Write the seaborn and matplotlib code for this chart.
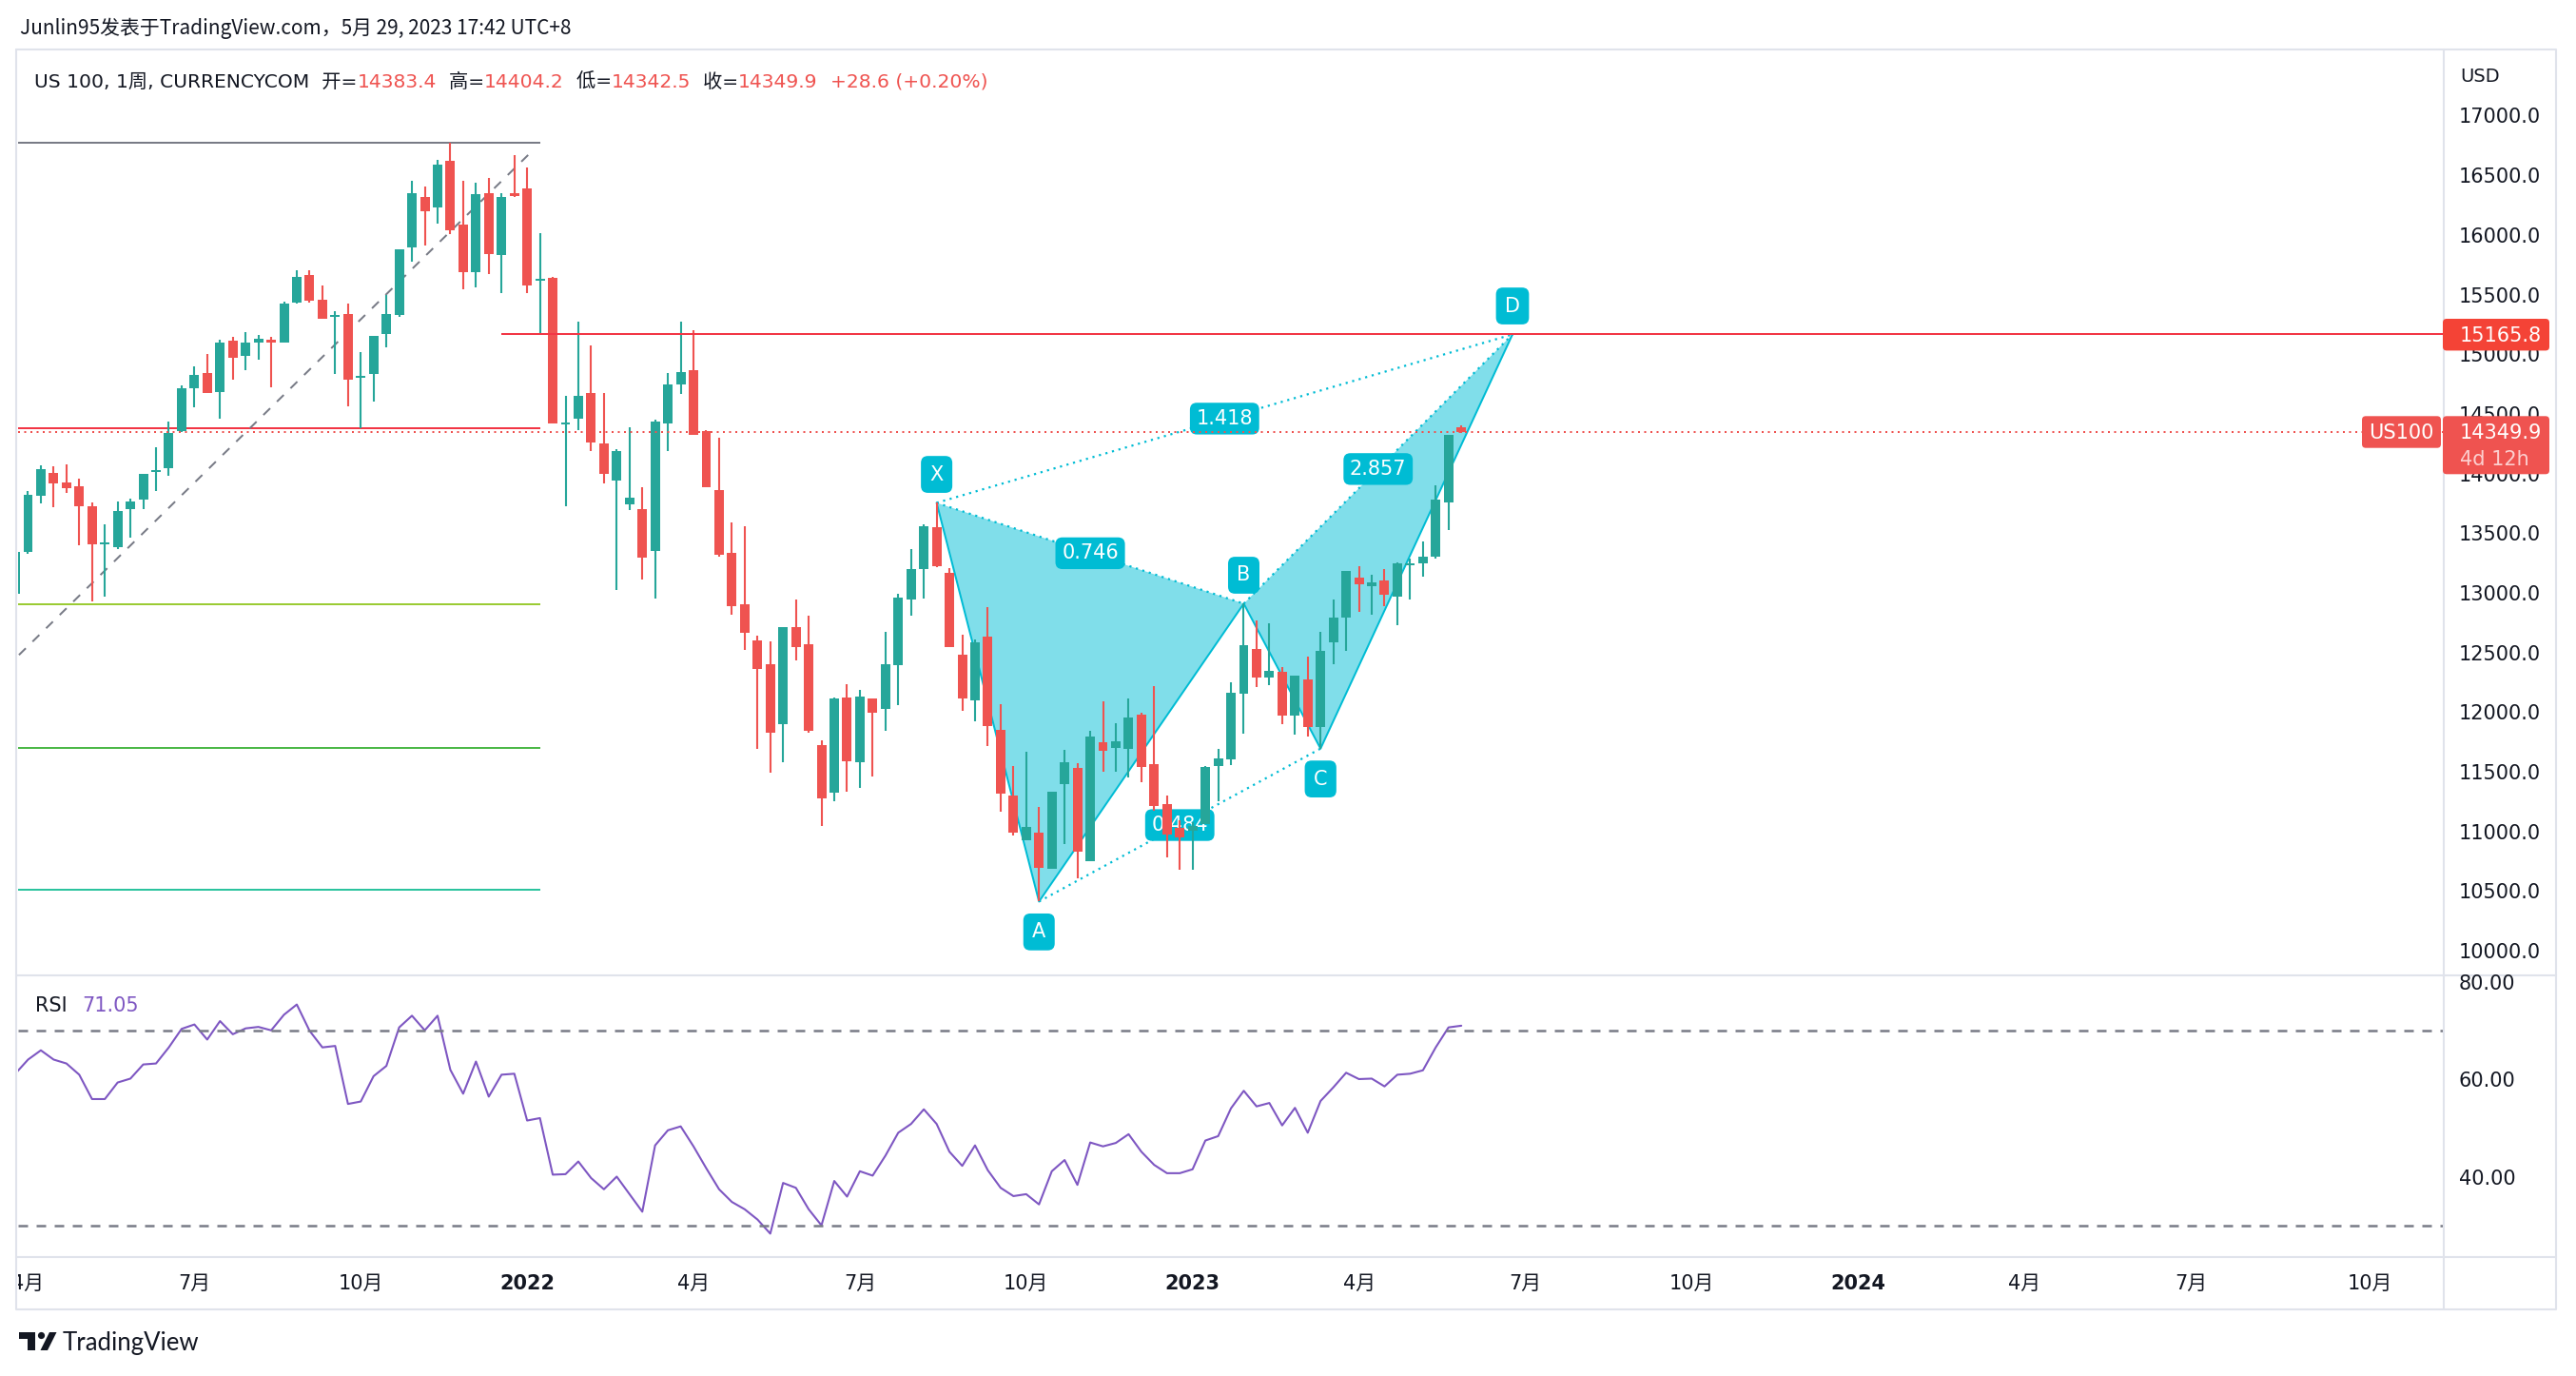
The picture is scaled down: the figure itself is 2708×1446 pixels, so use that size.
import numpy as np
import pandas as pd
import matplotlib
matplotlib.use("Agg")
import matplotlib.pyplot as plt
import seaborn as sns
from matplotlib.patches import Polygon, FancyBboxPatch, Circle
from matplotlib.transforms import Bbox, TransformedBbox

# weekly US 100 bars, week of 2021-03-29 up to week of 2023-05-29
opens = [12993, 13341, 13813, 14006, 13928, 13896, 13726, 13405, 13383, 13699,
         13781, 14015, 14042, 14358, 14711, 14844, 14684, 15110, 14986, 15101,
         15124, 15096, 15431, 15660, 15458, 15311, 15334, 14803, 14835, 15169,
         15325, 15893, 16320, 16232, 16617, 16090, 15687, 16352, 15829, 16347,
         16393, 15614, 15641, 14413, 14456, 14677, 14253, 13940, 13744, 13705,
         13348, 14417, 14748, 14863, 14353, 13861, 13334, 12903, 12604, 12401,
         11898, 12714, 12571, 11723, 11321, 12123, 11577, 12115, 12030, 12390,
         12942, 13202, 13551, 13170, 12482, 12098, 12636, 11852, 11303, 10929,
         10993, 10690, 11399, 11535, 10748, 11746, 11703, 11695, 11977, 11566,
         11227, 11033, 11005, 11062, 11546, 11603, 12153, 12527, 12287, 12339,
         11968, 12273, 11874, 12587, 12792, 13128, 13054, 13105, 12971, 13231,
         13248, 13299, 13754, 14383.4]
highs = [13360, 13854, 14070, 14061, 14079, 13960, 13758, 13575, 13767, 13786,
         13996, 14221, 14436, 14739, 14894, 15004, 15124, 15147, 15183, 15160,
         15147, 15440, 15701, 15701, 15573, 15357, 15421, 15014, 15151, 15499,
         15875, 16457, 16402, 16631, 16773, 16457, 16434, 16475, 16352, 16672,
         16567, 16017, 15651, 14652, 15276, 15076, 14677, 14200, 14385, 13883,
         14449, 14845, 15276, 15197, 14367, 14303, 13591, 13555, 12639, 12593,
         12714, 12942, 12810, 11766, 12123, 12237, 12187, 12115, 12675, 12988,
         13370, 13573, 13754, 13209, 12650, 12607, 12881, 12069, 11545, 11666,
         11203, 11332, 11684, 11570, 11846, 12088, 11908, 12116, 11997, 12216,
         11298, 11090, 11076, 11546, 11689, 12250, 12909, 12772, 12743, 12376,
         12307, 12464, 12672, 12943, 13185, 13225, 13151, 13199, 13256, 13285,
         13433, 13898, 14317, 14404.2]
lows = [12975, 13327, 13749, 13717, 13841, 13396, 12924, 12965, 13364, 13465,
        13699, 13854, 13978, 14349, 14555, 14675, 14459, 14785, 14867, 14954,
        14720, 15096, 15422, 15435, 15298, 14835, 14560, 14381, 14601, 15055,
        15311, 15779, 15907, 16095, 16003, 15545, 15559, 15673, 15513, 16320,
        15513, 15170, 14418, 13722, 14367, 14189, 13915, 13024, 13690, 13109,
        12949, 14186, 14670, 14321, 13886, 13305, 12817, 12522, 11695, 11488,
        11577, 12436, 11827, 11043, 11250, 11332, 11367, 11463, 11845, 12058,
        12810, 12953, 13213, 12543, 12009, 11923, 11713, 11161, 10965, 10929,
        10412, 10690, 10893, 10608, 10748, 11498, 11498, 11452, 11410, 11176,
        10785, 10677, 10677, 11062, 11253, 11555, 11817, 12210, 12225, 11897,
        11811, 11794, 11694, 12401, 12515, 12843, 12820, 12891, 12729, 12943,
        13137, 13290, 13523, 14342.5]
closes = [13341, 13822, 14038, 13914, 13877, 13722, 13405, 13410, 13685, 13767,
          13996, 14029, 14340, 14716, 14830, 14675, 15101, 14968, 15101, 15133,
          15101, 15426, 15651, 15449, 15298, 15325, 14785, 14817, 15151, 15334,
          15875, 16352, 16200, 16585, 16040, 15687, 16338, 15838, 16315, 16329,
          15577, 15628, 14418, 14427, 14652, 14257, 13993, 14189, 13797, 13291,
          14439, 14748, 14848, 14321, 13886, 13316, 12889, 12664, 12361, 11830,
          12714, 12543, 11845, 11278, 12112, 11588, 12133, 11994, 12401, 12960,
          13202, 13558, 13220, 12543, 12112, 12586, 11880, 11314, 10993, 11036,
          10697, 11332, 11581, 10829, 11797, 11675, 11754, 11954, 11538, 11213,
          10976, 10948, 11048, 11538, 11609, 12165, 12564, 12287, 12344, 11968,
          12307, 11874, 12512, 12792, 13185, 13071, 13091, 12980, 13248, 13242,
          13299, 13784, 14321.3, 14349.9]
rsi = [61.2, 64.1, 66.0, 64.1, 63.3, 61.0, 56.0, 56.0, 59.4, 60.2,
       63.1, 63.3, 66.6, 70.4, 71.3, 68.2, 72.0, 69.3, 70.5, 70.8,
       70.1, 73.3, 75.4, 70.0, 66.6, 66.9, 55.0, 55.5, 60.7, 62.8,
       70.7, 73.1, 70.1, 73.1, 62.0, 57.1, 63.7, 56.5, 61.0, 61.2,
       51.6, 52.1, 40.5, 40.6, 43.2, 39.8, 37.5, 40.1, 36.5, 32.9,
       46.5, 49.6, 50.4, 46.3, 41.8, 37.5, 34.9, 33.4, 31.3, 28.4,
       38.8, 37.8, 33.4, 30.1, 39.2, 36.0, 41.2, 40.3, 44.4, 49.1,
       50.9, 53.9, 50.9, 45.2, 42.3, 46.5, 41.4, 37.8, 36.1, 36.5,
       34.4, 41.2, 43.5, 38.4, 47.1, 46.3, 47.0, 48.8, 45.2, 42.5,
       40.8, 40.8, 41.6, 47.5, 48.4, 54.1, 57.7, 54.5, 55.2, 50.6,
       54.2, 49.1, 55.6, 58.4, 61.4, 60.1, 60.2, 58.6, 61.0, 61.2,
       61.9, 66.6, 70.7, 71.05]

tick_pos = [1, 14, 27, 40, 53, 66, 79, 92, 105, 118, 131, 144, 157, 170, 184]
tick_lbl = ['4月', '7月', '10月', '2022', '4月', '7月', '10月', '2023',
            '4月', '7月', '10月', '2024', '4月', '7月', '10月']

# XABCD pattern (bar index, price) and its ratio labels
pat_names = ['X', 'A', 'B', 'C', 'D']
pat_x = [72, 80, 96, 102, 117]
pat_y = [13754, 10412, 12909, 11694, 15165.8]
pat_ratio_pairs = [(0, 2), (1, 3), (2, 4), (0, 4)]
pat_ratios = ['0.746', '0.484', '2.857', '1.418']

# left-side drawings
fib_levels = [16773, 14381, 12901, 11701, 10510]
fib_colors = ['#787B86', '#F23645', '#9BCB34', '#4CB848', '#2BC39E']
fib_end = 41
trend_x = [0.29, 40.5]
trend_y = [12479, 16714]
target_price = 15165.8
target_start = 38
last_price = 14349.9
prev_close = 14321.3

UP, DOWN = '#26A69A', '#EF5350'
CYAN, CYAN_FILL = '#00BCD4', '#80DEEA'
TXT = '#131722'
FRAME = '#E0E3EB'

sns.set_theme(style="white")
plt.rcParams['font.family'] = ['DejaVu Sans', 'Noto Sans CJK SC']
CJK = ['Noto Sans CJK SC', 'DejaVu Sans']
LAT = ['DejaVu Sans', 'Noto Sans CJK SC']

W, H = 2708, 1446
fig = plt.figure(figsize=(W / 100, H / 100), dpi=100)
fig.patch.set_facecolor('white')


def frac(x0, y0, x1, y1):
    return [x0 / W, 1 - y1 / H, (x1 - x0) / W, (y1 - y0) / H]


bg = fig.add_axes([0, 0, 1, 1], zorder=0)
bg.set_xlim(0, W)
bg.set_ylim(H, 0)
bg.axis('off')

ax = fig.add_axes(frac(19, 53, 2568, 1024), zorder=1)
rax = fig.add_axes(frac(19, 1025, 2568, 1321), zorder=1, sharex=ax)
top = fig.add_axes([0, 0, 1, 1], zorder=3)
top.set_xlim(0, W)
top.set_ylim(H, 0)
top.axis('off')
top.patch.set_visible(False)

for a in (ax, rax):
    a.set_facecolor('none')
    for s in a.spines.values():
        s.set_visible(False)

# frame of the chart widget
bg.plot([17, 2687, 2687, 17, 17], [52, 52, 1376, 1376, 52], color=FRAME, lw=1.5)
bg.plot([2569, 2569], [52, 1376], color=FRAME, lw=1.5)
bg.plot([17, 2687], [1024.5, 1024.5], color=FRAME, lw=1.5)
bg.plot([17, 2687], [1321, 1321], color=FRAME, lw=1.5)

df = pd.DataFrame({'open': opens, 'high': highs, 'low': lows, 'close': closes})
df['bar'] = np.arange(len(df))
df['color'] = np.where(df['close'] >= df['open'], UP, DOWN)

ax.set_xlim(0.22, 189.7)
ax.set_ylim(9801, 17546)

# drawings on the left
ax.hlines(fib_levels, 0, fib_end, colors=fib_colors, lw=1.44, zorder=1)
ax.plot(trend_x, trend_y, color='#787B86', lw=1.44, ls=(0, (5, 5)), zorder=1)

# XABCD pattern
ax.add_patch(Polygon([(pat_x[i], pat_y[i]) for i in (0, 1, 2)], closed=True,
                     fc=CYAN_FILL, ec='none', zorder=1))
ax.add_patch(Polygon([(pat_x[i], pat_y[i]) for i in (2, 3, 4)], closed=True,
                     fc=CYAN_FILL, ec='none', zorder=1))
ax.plot(pat_x, pat_y, color=CYAN, lw=1.44, zorder=1.5)
for (i, j) in pat_ratio_pairs:
    ax.plot([pat_x[i], pat_x[j]], [pat_y[i], pat_y[j]], color=CYAN, lw=1.6,
            ls=(0, (1, 2.2)), zorder=1.5)
box = dict(boxstyle='round,pad=0.32,rounding_size=0.35', fc=CYAN, ec='none')
for (i, j), lab in zip(pat_ratio_pairs, pat_ratios):
    ax.text((pat_x[i] + pat_x[j]) / 2, (pat_y[i] + pat_y[j]) / 2, lab, ha='center',
            va='center', color='white', fontsize=15, bbox=box, zorder=2)
for k, name in enumerate(pat_names):
    off = 21.5 if k in (0, 2, 4) else -23
    ax.annotate(name, xy=(pat_x[k], pat_y[k]), xytext=(0, off), textcoords='offset points',
                ha='center', va='center', color='white', fontsize=15,
                bbox=dict(boxstyle='round,pad=0.45,rounding_size=0.35', fc=CYAN, ec='none'),
                zorder=2)

# candles
ax.vlines(df['bar'], df['low'], df['high'], colors=df['color'], lw=1.5, zorder=3)
body = np.maximum((df['close'] - df['open']).abs(), 14)
ax.bar(df['bar'], body, bottom=np.minimum(df['open'], df['close']), width=0.74,
       color=df['color'], linewidth=0, zorder=3.5)

# price lines
ax.hlines(target_price, target_start, 189.7, colors='#F23645', lw=1.44, zorder=5)
ax.axhline(last_price, color=DOWN, lw=1.44, ls=(0, (1, 2.25)), zorder=5)

ax.yaxis.tick_right()
ax.set_yticks(np.arange(10000, 17001, 500))
ax.set_yticklabels([f'{v:.1f}' for v in np.arange(10000, 17001, 500)])
ax.tick_params(axis='y', length=0, pad=12, labelsize=15, labelcolor=TXT)
ax.tick_params(axis='x', length=0, labelbottom=False)

# RSI pane
rsi_df = pd.DataFrame({'bar': np.arange(len(rsi)), 'rsi': rsi})
sns.lineplot(data=rsi_df, x='bar', y='rsi', ax=rax, color='#7E57C2', lw=1.5)
rax.axhline(70, color='#787B86', lw=1.8, ls=(0, (4, 3.6)))
rax.axhline(30, color='#787B86', lw=1.8, ls=(0, (4, 3.6)))
rax.set_ylim(23.6, 81.37)
rax.set_xlabel('')
rax.set_ylabel('')
rax.yaxis.tick_right()
rax.set_yticks([40, 60, 80])
rax.set_yticklabels(['40.00', '60.00', '80.00'])
rax.tick_params(axis='y', length=0, pad=12, labelsize=15, labelcolor=TXT)
rax.set_xticks(tick_pos)
rax.set_xticklabels(tick_lbl)
rax.tick_params(axis='x', length=0, pad=13, labelsize=15, labelcolor=TXT)
rax.set_xlim(0.22, 189.7)
for lbl in rax.get_xticklabels():
    if lbl.get_text().isdigit():
        lbl.set_fontweight('bold')
first = rax.get_xticklabels()[0]
first.set_clip_box(TransformedBbox(Bbox([[19 / W, 0], [1, 1]]), fig.transFigure))
first.set_clip_on(True)


def px_y(a, value):
    disp = a.transData.transform((1, value))
    return top.transData.inverted().transform(disp)[1]


# price-axis tags
ty = px_y(ax, target_price)
top.add_patch(FancyBboxPatch((2568, ty - 16.4), 112, 33.4,
                             boxstyle='round,pad=0,rounding_size=4', fc='#F44336', ec='none'))
top.text(2586, ty + 2, f'{target_price:.1f}', color='white', fontsize=15, va='center')
ly = px_y(ax, last_price)
top.add_patch(FancyBboxPatch((2568, ly - 16.4), 112, 61,
                             boxstyle='round,pad=0,rounding_size=4', fc=DOWN, ec='none'))
top.text(2586, ly + 1.5, f'{last_price:.1f}', color='white', fontsize=15, va='center')
top.text(2586, ly + 29, '4d 12h', color='#FCCFCF', fontsize=15, va='center')
top.add_patch(FancyBboxPatch((2483, ly - 16.4), 83, 33.4,
                             boxstyle='round,pad=0,rounding_size=4', fc=DOWN, ec='none'))
top.text(2524.5, ly + 1.5, 'US100', color='white', fontsize=15, va='center', ha='center')
top.text(2586, 80, 'USD', color=TXT, fontsize=14, va='center')

# header and legend
top.text(21, 30, 'Junlin95发表于TradingView.com，5月 29, 2023 17:42 UTC+8', color=TXT,
         fontsize=15, va='center', family=CJK)
chg = last_price - prev_close
pieces = [('US 100, 1周, CURRENCYCOM  开=', TXT), (f'{opens[-1]:.1f}', DOWN),
          ('  高=', TXT), (f'{highs[-1]:.1f}', DOWN), ('  低=', TXT), (f'{lows[-1]:.1f}', DOWN),
          ('  收=', TXT), (f'{closes[-1]:.1f}', DOWN),
          (f'  +{chg:.1f} (+{chg / prev_close * 100:.2f}%)', DOWN)]
prev = top.text(36, 86, pieces[0][0], color=pieces[0][1], fontsize=14.6, va='center', family=LAT)
for s, c in pieces[1:]:
    prev = top.annotate(s, xy=(1, 0), xycoords=prev, ha='left', va='bottom', color=c,
                        fontsize=14.6, family=LAT)

# RSI legend
r = top.text(37, 1057, 'RSI', color=TXT, fontsize=15, va='center')
top.annotate(f'{rsi[-1]:.2f}', xy=(1, 0), xycoords=r, xytext=(11, 0), textcoords='offset points',
             ha='left', va='bottom', color='#7E57C2', fontsize=15)

# footer logo
top.add_patch(Polygon([(20, 1400), (37, 1400), (37, 1419), (29, 1419), (29, 1407), (20, 1407)],
                      closed=True, fc=TXT, ec='none'))
top.add_patch(Circle((43.5, 1403.5), 3.6, fc=TXT, ec='none'))
top.add_patch(Polygon([(42.5, 1419), (50, 1419), (59.5, 1400), (52, 1400)], closed=True,
                      fc=TXT, ec='none'))
top.text(66, 1419, 'TradingView', color=TXT, fontsize=18.5, va='baseline', family='Lato')

fig.savefig('out.png', dpi=100)
